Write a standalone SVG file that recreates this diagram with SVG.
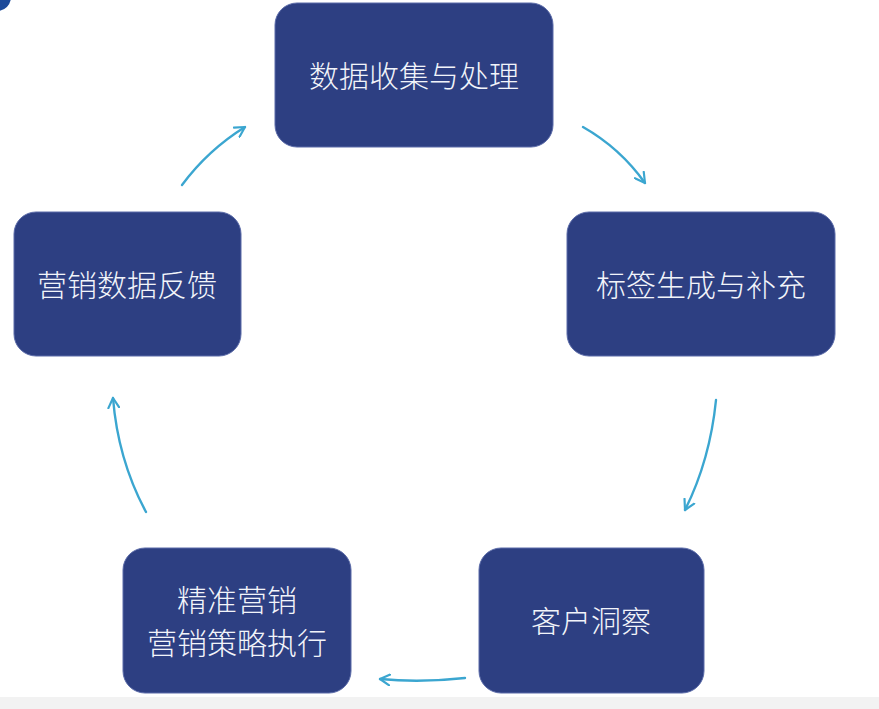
<svg xmlns="http://www.w3.org/2000/svg" width="879" height="709" viewBox="0 0 879 709">
<style>
.box{fill:#2d3f82;stroke:#5a6aa8;stroke-width:1}
.t{fill:#f2f4fa;font-family:"Noto Sans CJK SC","Noto Sans",sans-serif;font-size:30px;text-anchor:middle;dominant-baseline:central;font-weight:300}
.c{fill:none;stroke:#3ba6d0;stroke-width:2.4;stroke-linecap:round}
</style>
<defs>
<marker id="ah" viewBox="0 0 12 12" refX="10" refY="6" markerWidth="13" markerHeight="13" markerUnits="userSpaceOnUse" orient="auto">
<path d="M1,1 L10,6 L1,11" fill="none" stroke="#3ba6d0" stroke-width="2" stroke-linecap="round" stroke-linejoin="round"/>
</marker>
</defs>
<rect x="0" y="0" width="879" height="709" fill="#ffffff"/>
<rect x="0" y="697" width="879" height="12" fill="#f2f2f2"/>
<circle cx="-3" cy="-3" r="14" fill="#1c4a9a"/>
<g id="connectors">
<path class="c" d="M182,185 Q208,150 245,127" marker-end="url(#ah)"/>
<path class="c" d="M583,127 Q620,148 645,183" marker-end="url(#ah)"/>
<path class="c" d="M716,400 Q710,460 685,510" marker-end="url(#ah)"/>
<path class="c" d="M465,678 Q420,683 380,679" marker-end="url(#ah)"/>
<path class="c" d="M146,512 Q118,460 113,398" marker-end="url(#ah)"/>
</g>
<g id="n1"><rect class="box" x="275" y="3" width="278" height="144" rx="22"/><text class="t" x="414" y="74">数据收集与处理</text></g>
<g id="n2"><rect class="box" x="567" y="212" width="268" height="144" rx="22"/><text class="t" x="701" y="283">标签生成与补充</text></g>
<g id="n3"><rect class="box" x="479" y="548" width="225" height="145" rx="22"/><text class="t" x="591" y="619">客户洞察</text></g>
<g id="n4"><rect class="box" x="123" y="548" width="228" height="145" rx="22"/><text class="t" x="237" y="598">精准营销</text><text class="t" x="237" y="641">营销策略执行</text></g>
<g id="n5"><rect class="box" x="14" y="212" width="227" height="144" rx="22"/><text class="t" x="127" y="283">营销数据反馈</text></g>
</svg>
